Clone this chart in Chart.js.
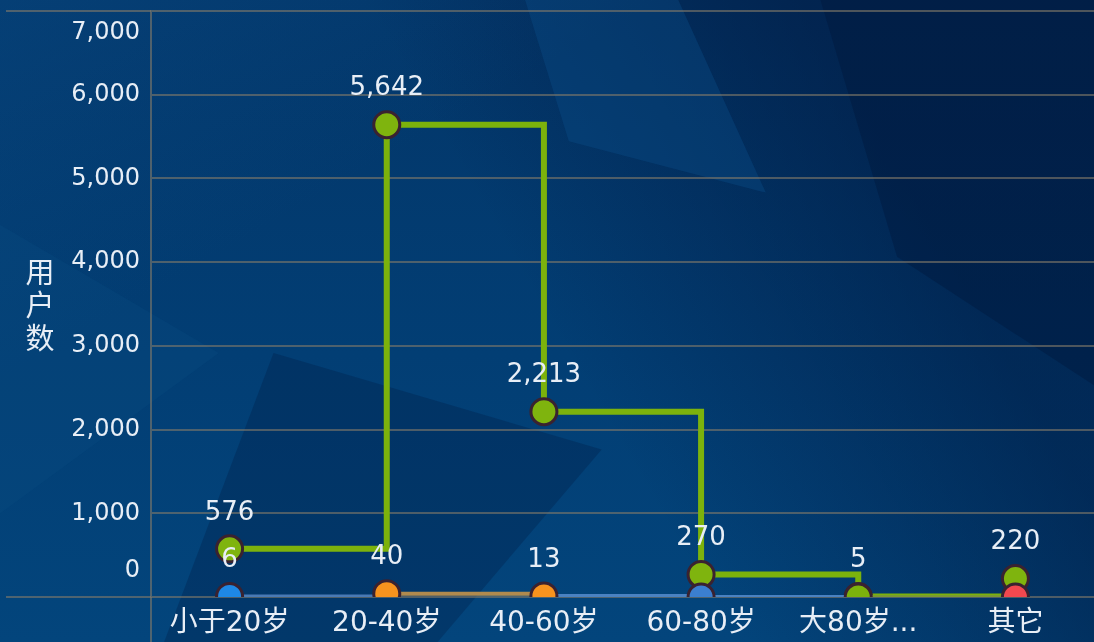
<!DOCTYPE html>
<html>
  <head>
    <title>用户数</title>
    <script src="https://cdn.jsdelivr.net/npm/chart.js"></script>
    <style>
      html, body { margin: 0; overflow: hidden; background: #02305f; }
      .chart-container {
        position: relative;
        width: 1094px;
        height: 642px;
        overflow: hidden;
        background:
          linear-gradient(150deg, rgba(10, 80, 140, 0.35) 0%, rgba(0, 0, 0, 0) 30%),
          linear-gradient(60deg, rgba(0, 0, 0, 0) 50%, rgba(0, 15, 50, 0.45) 80%),
          linear-gradient(180deg, #033669 0%, #023e74 55%, #03457c 100%);
      }
      .shape { position: absolute; inset: 0; }
      .s1 { background: rgba(12, 80, 140, 0.35); clip-path: polygon(48% 0, 62% 0, 70% 30%, 52% 22%); }
      .s2 { background: rgba(0, 20, 55, 0.35); clip-path: polygon(75% 0, 100% 0, 100% 60%, 82% 40%); }
      .s3 { background: rgba(10, 75, 130, 0.3); clip-path: polygon(0 35%, 20% 55%, 0 80%); }
      .s4 { background: rgba(0, 25, 65, 0.3); clip-path: polygon(25% 55%, 55% 70%, 40% 100%, 15% 100%); }
      canvas { position: absolute; left: 0; top: 0; }
    </style>
  </head>
  <body>
    <div class="chart-container">
      <div class="shape s1"></div>
      <div class="shape s2"></div>
      <div class="shape s3"></div>
      <div class="shape s4"></div>
      <canvas id="myChart" width="1094" height="642"></canvas>
    </div>

    <script>
      // data
      const categories = ["小于20岁", "20-40岁", "40-60岁", "60-80岁", "大80岁...", "其它"];
      const householdCounts = [576, 5642, 2213, 270, 5, 220];
      const smallCounts = [6, 40, 13, 0, 0, 0];
      const smallPointColors = ["#1e88e5", "#f7931e", "#f7931e", "#3b7fd0", "#7cb20c", "#f2484f"];
      const smallLineColors = ["#4a7ab5", "#b08a4e", "#4a82c2", "#4a82c2", "#7a9a30"];
      const yMax = 7000;
      const yStep = 1000;
      const yTitle = ["用", "户", "数"];

      const gridColor = "rgba(130, 122, 105, 0.6)";
      const textColor = "#e8eef6";
      const fontFamily = "'DejaVu Sans', 'Noto Sans CJK SC', sans-serif";
      const cjkFamily = "'Noto Sans CJK SC', sans-serif";

      const fmt = (v) => v.toLocaleString("en-US");

      const labelPlugin = {
        id: "labels",
        afterDatasetsDraw(chart) {
          const ctx = chart.ctx;
          ctx.save();
          ctx.fillStyle = textColor;
          ctx.font = "26px " + fontFamily;
          ctx.textAlign = "center";
          ctx.textBaseline = "middle";
          chart.data.datasets.forEach((ds, i) => {
            const meta = chart.getDatasetMeta(i);
            meta.data.forEach((pt, j) => {
              const v = ds.data[j];
              if (!v) return;
              ctx.fillText(fmt(v), pt.x, pt.y - 36);
            });
          });
          ctx.restore();
        },
        afterDraw(chart) {
          const ctx = chart.ctx;
          const a = chart.chartArea;
          ctx.save();
          // axis lines running past the plot
          ctx.strokeStyle = gridColor;
          ctx.lineWidth = 2;
          ctx.beginPath();
          ctx.moveTo(6, a.top);
          ctx.lineTo(a.left, a.top);
          ctx.moveTo(6, a.bottom);
          ctx.lineTo(a.left, a.bottom);
          ctx.moveTo(a.left, a.bottom);
          ctx.lineTo(a.left, chart.height);
          ctx.stroke();
          // stacked y title
          ctx.fillStyle = textColor;
          ctx.font = "29px " + cjkFamily;
          ctx.textAlign = "center";
          ctx.textBaseline = "middle";
          const mid = (a.top + a.bottom) / 2;
          yTitle.forEach((c, k) => {
            ctx.fillText(c, 40, mid - 32 + k * 33);
          });
          ctx.restore();
        },
      };

      new Chart(document.getElementById("myChart"), {
        type: "line",
        data: {
          labels: categories,
          datasets: [
            {
              data: smallCounts,
              stepped: "before",
              borderWidth: 4,
              borderColor: smallLineColors[0],
              segment: {
                borderColor: (c) => smallLineColors[c.p0DataIndex],
              },
              pointRadius: 13,
              pointHoverRadius: 13,
              pointBackgroundColor: smallPointColors,
              pointBorderColor: "#3a2230",
              pointBorderWidth: 3,
              clip: 0,
            },
            {
              data: householdCounts,
              stepped: "before",
              borderWidth: 6,
              borderColor: "#7cb20c",
              pointRadius: 13,
              pointHoverRadius: 13,
              pointBackgroundColor: "#7fb40e",
              pointBorderColor: "#3a2230",
              pointBorderWidth: 3,
              clip: 0,
            },
          ],
        },
        options: {
          responsive: false,
          animation: false,
          events: [],
          layout: {
            autoPadding: false,
            padding: { top: 11, right: -5, left: 0, bottom: 0 },
          },
          plugins: {
            legend: { display: false },
            tooltip: { enabled: false },
          },
          scales: {
            x: {
              offset: true,
              grid: { display: false },
              border: { display: false },
              ticks: {
                color: textColor,
                font: { size: 28, family: fontFamily },
                padding: 2,
                maxRotation: 0,
                autoSkip: false,
              },
              afterFit(scale) {
                scale.height = 45;
                scale.paddingLeft = 0;
                scale.paddingRight = 0;
              },
            },
            y: {
              min: 0,
              max: yMax,
              grid: {
                color: gridColor,
                lineWidth: 2,
                drawTicks: false,
              },
              border: { color: gridColor, width: 2 },
              ticks: {
                stepSize: yStep,
                autoSkip: false,
                color: textColor,
                padding: 11,
                font: (c) => {
                  const v = c.tick ? c.tick.value : 1;
                  let lh = 1.2;
                  if (v === 0) lh = "52px";
                  if (v === yMax) lh = "44px";
                  return { size: 24, family: fontFamily, lineHeight: lh };
                },
                callback: (v) => {
                  if (v === 0) return ["0", ""];
                  if (v === yMax) return ["", fmt(v)];
                  return fmt(v);
                },
              },
              afterFit(scale) {
                scale.width = 151;
                scale.paddingTop = 0;
                scale.paddingBottom = 0;
              },
            },
          },
        },
        plugins: [labelPlugin],
      });
    </script>
  </body>
</html>
